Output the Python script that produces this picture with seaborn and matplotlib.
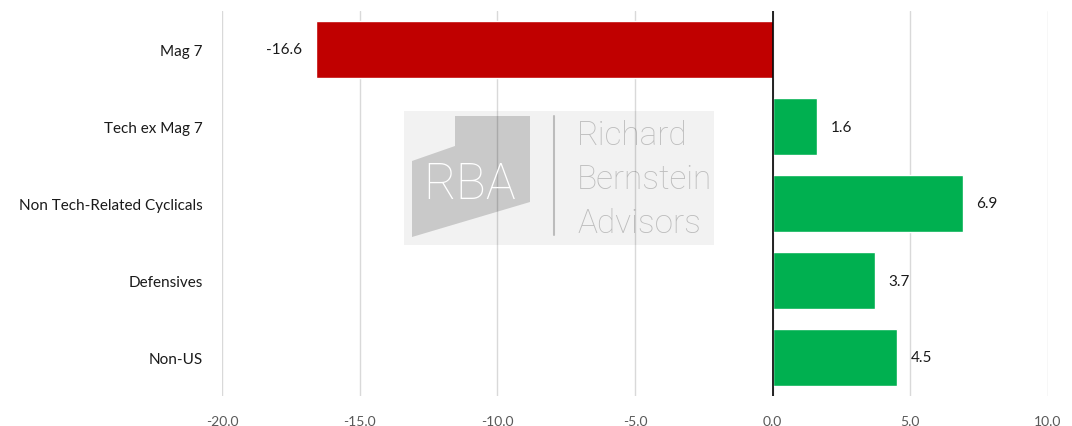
import matplotlib
matplotlib.use("Agg")
import matplotlib.pyplot as plt
import matplotlib.transforms as mtransforms
import pandas as pd
import seaborn as sns
from matplotlib.patches import Polygon, Rectangle

CATEGORIES = ["Mag 7", "Tech ex Mag 7", "Non Tech-Related Cyclicals", "Defensives", "Non-US"]
VALUES = [-16.6, 1.6, 6.9, 3.7, 4.5]
X_TICKS = [-20, -15, -10, -5, 0, 5, 10]

RED = "#C00000"
GREEN = "#00B050"
INK = "#1A1A1A"
GRID = "#D9D9D9"

sns.set_theme(style="white")
plt.rcParams["font.family"] = ["Lato", "DejaVu Sans"]

W, H = 1072, 427
fig = plt.figure(figsize=(W / 100, H / 100), dpi=100)
fig.patch.set_facecolor("white")

ax = fig.add_axes([222 / W, 1 - 397 / H, (1048 - 222) / W, 385 / H])

df = pd.DataFrame({"category": CATEGORIES, "value": VALUES})
colors = {c: (RED if v < 0 else GREEN) for c, v in zip(CATEGORIES, VALUES)}
sns.barplot(data=df, x="value", y="category", hue="category", palette=colors,
            order=CATEGORIES, legend=False, width=0.74, ax=ax, saturation=1, zorder=3)

# translucent watermark in pixel coords, gridlines show through it
px = mtransforms.Affine2D().scale(1 / W, -1 / H).translate(0, 1) + fig.transFigure
wm = dict(transform=px, clip_on=False, zorder=1.5)
ax.add_patch(Rectangle((404, 112), 310, 134, facecolor="black", alpha=0.05, edgecolor="none", **wm))
ax.add_patch(Polygon([(412, 162), (455, 147), (455, 117), (530, 117), (530, 203), (412, 238)],
                     closed=True, facecolor="black", alpha=0.17, edgecolor="none", **wm))
ax.text(470, 185, "RBA", color="white", fontsize=36, ha="center", va="center",
        family=["Roboto", "DejaVu Sans"], fontweight="light", **wm)
ax.plot([554, 554], [117, 236], color="black", alpha=0.22, lw=1.5, **wm)
for i, word in enumerate(["Richard", "Bernstein", "Advisors"]):
    ax.text(577, 136 + i * 44, word, color="black", alpha=0.22, fontsize=24, ha="left", va="center",
            family=["Roboto", "DejaVu Sans"], fontweight="light", **wm)

ax.set_xlim(-20, 10)
ax.set_ylim(4.5, -0.5)
ax.set_xticks(X_TICKS)
ax.set_xticklabels([f"{t:.1f}" for t in X_TICKS], fontsize=10, color="#595959")
ax.tick_params(axis="x", length=0, pad=14)
ax.tick_params(axis="y", length=0, pad=14, labelsize=11, labelcolor=INK)
ax.set_xlabel("")
ax.set_ylabel("")
ax.set_axisbelow(True)
ax.grid(axis="x", color=GRID, lw=1)
ax.grid(axis="y", visible=False)
for s in ax.spines.values():
    s.set_visible(False)
ax.axvline(0, color="black", lw=1.2, zorder=4)

for container in ax.containers:
    ax.bar_label(container, labels=[f"{b.get_width():.1f}" for b in container],
                 padding=10, fontsize=11, color=INK)

fig.savefig("out.png", dpi=100)
